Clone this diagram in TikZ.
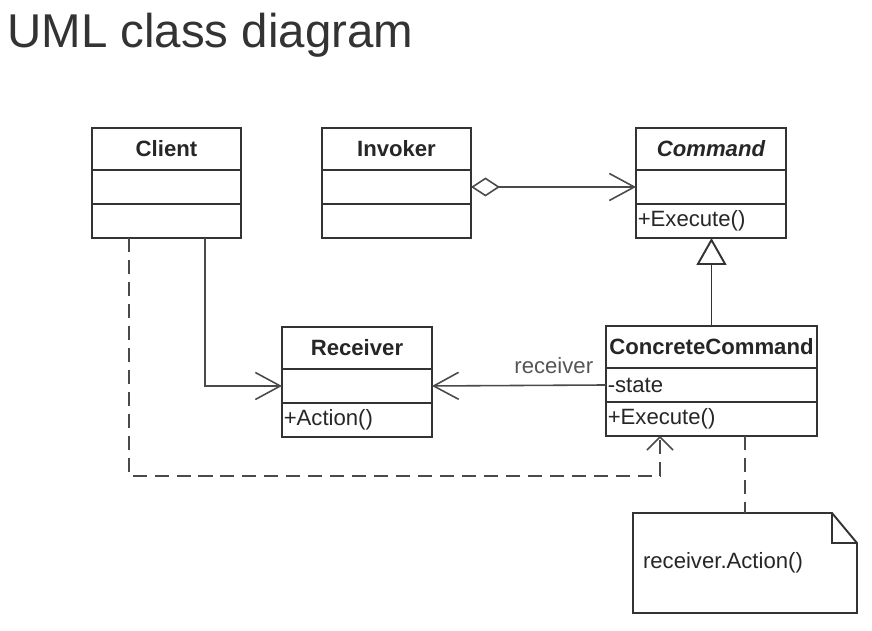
\documentclass[tikz,border=0pt]{standalone}
\usepackage{fontspec}
\setmainfont{Liberation Sans}
\usepackage{tikz}
\usetikzlibrary{arrows.meta}
\usepackage{xcolor}
\definecolor{umlline}{HTML}{333333}
\definecolor{umltext}{HTML}{262626}
\definecolor{umlgrey}{HTML}{4A4A4A}
\definecolor{umllabel}{HTML}{555555}
\tikzset{
	umlhead/.style={draw=umlline,line width=1.1pt,outer sep=0pt,anchor=north west,minimum height=0.84cm,inner sep=0pt,font=\fontsize{12.6}{14}\selectfont\bfseries,text=umltext},
	umlpart/.style={draw=umlline,line width=1.1pt,outer sep=0pt,anchor=north west,minimum height=0.68cm,inner xsep=1pt,inner ysep=0pt,align=left,font=\fontsize{12.6}{14}\selectfont,text=umltext},
	assoc/.style={draw=umlgrey,line width=0.9pt,-{Straight Barb[length=0.5cm,width=0.54cm]}},
	aggr/.style={draw=umlgrey,line width=0.9pt,{Diamond[open,length=0.58cm,width=0.38cm]}-{Straight Barb[length=0.5cm,width=0.54cm]}},
	gener/.style={draw=umlline,line width=1.1pt,-{Triangle[open,length=0.54cm,width=0.6cm]}},
	depend/.style={draw=umlgrey,line width=0.9pt,dash pattern=on 8pt off 4.5pt,-{Straight Barb[length=0.26cm,width=0.52cm]}},
	notelink/.style={draw=umlgrey,line width=0.9pt,dash pattern=on 8pt off 4.5pt},
	notebox/.style={anchor=north west,outer sep=0pt,text width=4.08cm,inner xsep=0.2cm,minimum height=2cm,align=left,font=\fontsize{12.6}{14}\selectfont,text=umltext},
	lbl/.style={font=\fontsize{12.6}{14}\selectfont,text=umllabel}
}
\newcommand{\umlclass}[7]{%
	\pgfmathsetlengthmacro\umltw{#4-2pt}%
	\node[umlhead,minimum width=#4] (#1) at (#2,#3) {#5};
	\node[umlpart,text width=\umltw] (#1-a) at (#1.south west) {#6};
	\node[umlpart,text width=\umltw] (#1-o) at (#1-a.south west) {#7};
}

\begin{document}
\begin{tikzpicture}[x=0.02cm,y=-0.02cm]
			\useasboundingbox (0,0) rectangle (872,631);
			\node[anchor=base west,inner sep=0pt,font=\fontsize{27}{32}\selectfont,text=umlline] (title) at (7,48) {UML class diagram};
			\umlclass{cli}{92}{128}{2.98cm}{Client}{}{}
			\umlclass{inv}{322}{128}{2.98cm}{Invoker}{}{}
			\umlclass{cmd}{636}{128}{3cm}{\itshape Command}{}{+Execute()}
			\umlclass{rcv}{282}{327}{3cm}{Receiver}{}{+Action()}
			\umlclass{cc}{606}{326}{4.22cm}{ConcreteCommand}{-state}{+Execute()}
			\node[notebox] (note) at (633,513) {receiver.Action()};
			\draw[umlline,line width=1.1pt] (note.north west) -- ([xshift=-0.5cm]note.north east) -- ([yshift=-0.6cm]note.north east) -- (note.south east) -- (note.south west) -- cycle;
			\draw[umlline,line width=1.1pt] ([xshift=-0.5cm]note.north east) |- ([yshift=-0.6cm]note.north east);
			\path (cli-o.south west) ++(113,0) coordinate (cli-r);
			\path (cli-o.south west) ++(37,0) coordinate (cli-d);
			\path (cc-o.south west) ++(54,0) coordinate (cc-d);
			\path (inv-a.east) edge[aggr] (cmd-a.west);
			\draw[gener] (cc.north) -- (cc.north |- cmd-o.south);
			\draw[assoc] (cli-r) |- (rcv-a.west);
			\path
			(cc-a.west) edge[assoc] node [lbl,pos=0.3,above,yshift=0.1cm] {receiver} (rcv-a.east)
			;
			\draw[depend] (cli-d) -- ++(0,238) -| (cc-d);
			\draw[notelink] (note.north |- cc-o.south) -- (note.north);
		\end{tikzpicture}
\end{document}
